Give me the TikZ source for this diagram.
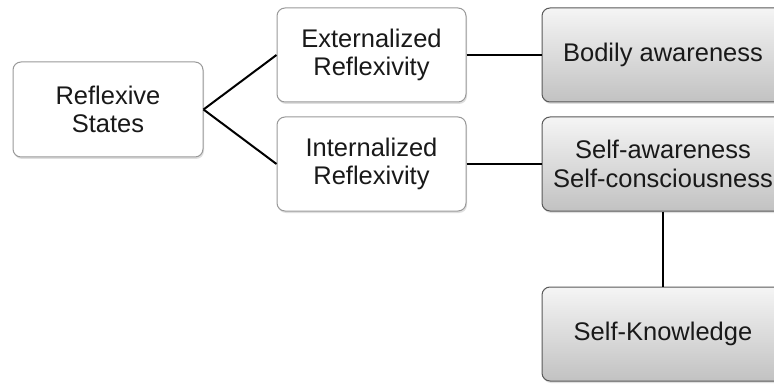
\documentclass[tikz,border=0pt]{standalone}
\usepackage{fontspec}
\setmainfont{Liberation Sans}
\usetikzlibrary{shadows}
\begin{document}
\begin{tikzpicture}[x=1pt,y=1pt,
 base/.style={rounded corners=8pt, align=center, text=black!90,
   font=\fontsize{25.5}{28.5}\selectfont, inner sep=0pt,
   drop shadow={shadow xshift=1pt, shadow yshift=-2pt, opacity=0.25}},
 wbox/.style={base, draw=black!40, fill=white, line width=1pt,
   minimum width=189pt, minimum height=94pt},
 gbox/.style={base, draw=black!65, line width=1pt, top color=black!4,
   bottom color=black!24, minimum width=242pt, minimum height=94pt},
 conn/.style={line width=2pt, draw=black}]
\clip (0,0) rectangle (774,-385);
\node[wbox, minimum width=190pt, minimum height=95pt] (rs) at (108,-109.5) {Reflexive\\States};
\node[wbox] (ext) at (371.5,-55) {Externalized\\Reflexivity};
\node[wbox] (int) at (371.5,-164) {Internalized\\Reflexivity};
\node[gbox] (ba) at (663,-55) {Bodily awareness};
\node[gbox] (sa) at (663,-164) {Self-awareness\\Self-consciousness};
\node[gbox] (sk) at (663,-334) {Self-Knowledge};
\draw[conn] (rs.east) -- (ext.west);
\draw[conn] (rs.east) -- (int.west);
\draw[conn] (ext.east) -- (ba.west);
\draw[conn] (int.east) -- (sa.west);
\draw[conn] (sa.south) -- (sk.north);
\end{tikzpicture}
\end{document}
